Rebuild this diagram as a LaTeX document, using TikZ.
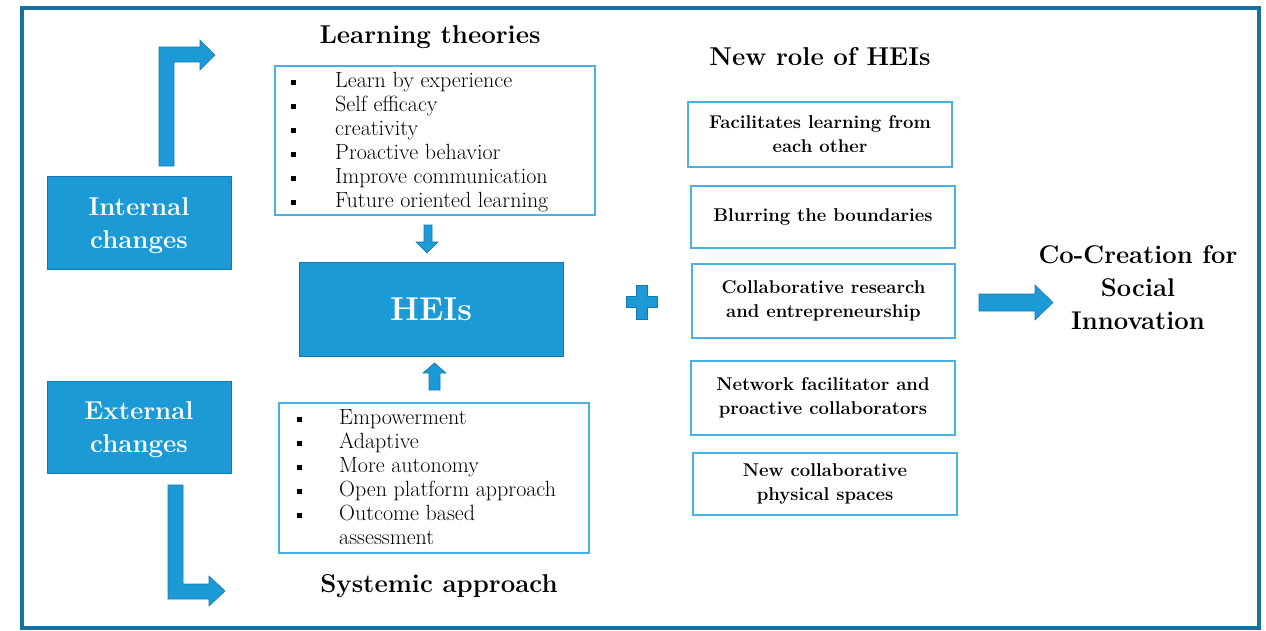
\documentclass[tikz,border=0pt]{standalone}
\usetikzlibrary{calc}
\definecolor{hblue}{HTML}{1B9AD6}
\definecolor{hedge}{HTML}{1578B3}
\definecolor{hframe}{HTML}{17709F}
\definecolor{hlight}{HTML}{4AB0E6}
\newcommand{\sqb}{\rule[3pt]{5pt}{5pt}}
\tikzset{
  bluebox/.style={fill=hblue, draw=hedge, line width=0.8pt, text=white, align=center, inner sep=0pt},
  boxtext/.style={text=white, align=center, inner sep=0pt, font=\fontsize{25.8}{33}\selectfont\bfseries},
  listbox/.style={draw=hlight, line width=1.5pt, inner sep=0pt},
  rolebox/.style={draw=hlight, line width=1.5pt, inner sep=0pt, align=center,
    font=\fontsize{18.5}{24}\selectfont\bfseries},
  title/.style={font=\fontsize{25.8}{30}\selectfont\bfseries, inner sep=0pt},
  listtext/.style={anchor=base west, inner sep=0pt, font=\fontsize{22}{24}\selectfont},
  blockarrow/.style={fill=hblue, draw=hedge, line width=0.6pt}
}
\begin{document}
\begin{tikzpicture}[x=1pt,y=-1pt]
\useasboundingbox (0,0) rectangle (1266,630);
% outer frame
\draw[hframe, line width=4pt] (22,8) rectangle (1259,628);

% left blue boxes
\node[bluebox, minimum width=184pt, minimum height=93pt] (int) at (139,222.5) {};
\node[boxtext] (intt) at ($(int.center)+(0,3)$) {Internal\\changes};
\node[bluebox, minimum width=184pt, minimum height=92pt] (ext) at (139,427) {};
\node[boxtext] (extt) at ($(ext.center)+(0,2.5)$) {External\\changes};

% HEIs
\node[bluebox, minimum width=264pt, minimum height=94pt,
  font=\fontsize{33}{38}\selectfont\bfseries] (hei) at (431,309) {HEIs};

% titles
\node[title, anchor=base] (ltt) at (430,43) {Learning theories};
\node[title, anchor=base] (sat) at (439,592) {Systemic approach};
\node[title, anchor=base] (nrt) at (820,65) {New role of HEIs};
\node[title, align=center, font=\fontsize{25.6}{33}\selectfont\bfseries] (cc) at (1138,287.5)
  {Co-Creation for\\Social\\Innovation};

% learning theories list
\node[listbox, minimum width=320pt, minimum height=149pt] (lt) at (435,140.5) {};
\node[listtext] (ltx) at (290.5,87.5) {\begin{tabular}[t]{@{}l@{}}
\makebox[44.5pt][l]{\sqb}Learn by experience\\
\makebox[44.5pt][l]{\sqb}Self efficacy\\
\makebox[44.5pt][l]{\sqb}creativity\\
\makebox[44.5pt][l]{\sqb}Proactive behavior\\
\makebox[44.5pt][l]{\sqb}Improve communication\\
\makebox[44.5pt][l]{\sqb}Future oriented learning
\end{tabular}};

% systemic approach list
\node[listbox, minimum width=310pt, minimum height=150pt] (sa) at (434,478) {};
\node[listtext] (sax) at (296.5,424.5) {\begin{tabular}[t]{@{}l@{}}
\makebox[42.5pt][l]{\sqb}Empowerment\\
\makebox[42.5pt][l]{\sqb}Adaptive\\
\makebox[42.5pt][l]{\sqb}More autonomy\\
\makebox[42.5pt][l]{\sqb}Open platform approach\\
\makebox[42.5pt][l]{\sqb}Outcome based\\
\makebox[42.5pt][l]{}assessment
\end{tabular}};

% role boxes
\node[rolebox, minimum width=264pt, minimum height=65pt] (r1) at (820,134.5) {Facilitates learning from\\each other};
\node[rolebox, minimum width=264pt, minimum height=62pt] (r2) at (823,217) {Blurring the boundaries};
\node[rolebox, minimum width=263pt, minimum height=74pt] (r3) at (823.5,301) {Collaborative research\\and entrepreneurship};
\node[rolebox, minimum width=264pt, minimum height=74pt] (r4) at (823,398) {Network facilitator and\\proactive collaborators};
\node[rolebox, minimum width=264pt, minimum height=62pt] (r5) at (825,484) {New collaborative\\physical spaces};

% bent arrow up-right (internal -> learning theories)
\draw[blockarrow] (159,166) -- (159,47) -- (200,47) -- (200,40) -- (215,55) -- (200,70)
  -- (200,62) -- (174,62) -- (174,166) -- cycle;
% bent arrow down-right (external -> systemic approach)
\draw[blockarrow] (168,485) -- (183,485) -- (183,584) -- (209,584) -- (209,576) -- (225,591)
  -- (209,606) -- (209,599) -- (168,599) -- cycle;
% down arrow into HEIs
\draw[blockarrow] (424,225) -- (432,225) -- (432,242) -- (438,242) -- (427,253) -- (416,242)
  -- (424,242) -- cycle;
% up arrow into HEIs
\draw[blockarrow] (429,390) -- (429,373) -- (423,373) -- (434.5,363) -- (446,373) -- (440,373)
  -- (440,390) -- cycle;
% plus sign
\draw[blockarrow] (636.5,285) -- (647,285) -- (647,296.5) -- (657,296.5) -- (657,307.5)
  -- (647,307.5) -- (647,319) -- (636.5,319) -- (636.5,307.5) -- (626,307.5) -- (626,296.5)
  -- (636.5,296.5) -- cycle;
% right arrow to co-creation
\draw[blockarrow] (979,294) -- (1035,294) -- (1035,285) -- (1053,302.5) -- (1035,320)
  -- (1035,311) -- (979,311) -- cycle;
\end{tikzpicture}
\end{document}
